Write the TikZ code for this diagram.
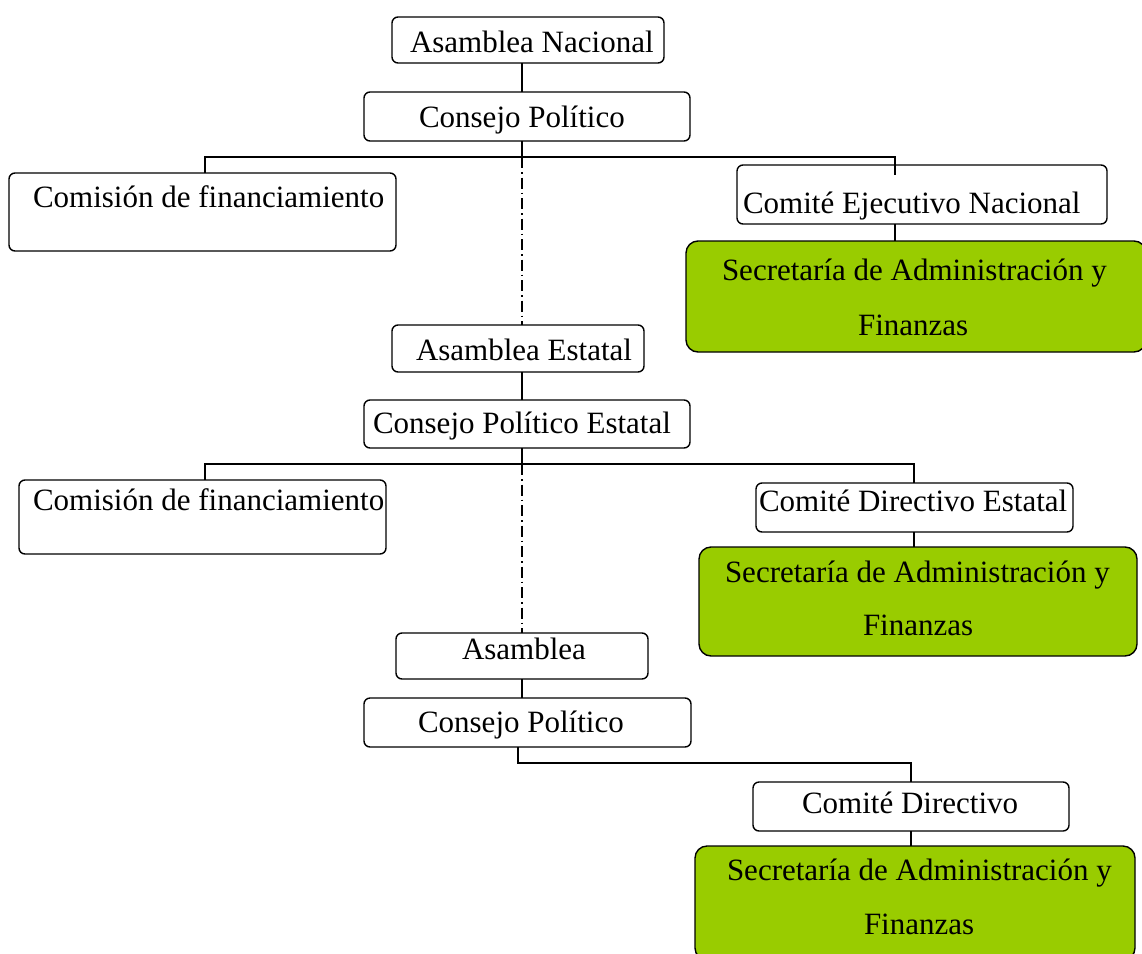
\documentclass[tikz,border=0pt]{standalone}
\usepackage{fontspec}
\setmainfont{Liberation Serif}
\definecolor{leaf}{HTML}{99CC00}
\begin{document}
\begin{tikzpicture}[x=1pt,y=-1pt,
  wbox/.style={draw=black,line width=1.4pt,rounded corners=6pt,fill=white,inner sep=0pt,outer sep=0pt},
  gbox/.style={draw=black,line width=1.4pt,rounded corners=12pt,fill=leaf,inner sep=0pt,outer sep=0pt},
  txt/.style={anchor=base west,inner sep=0pt,outer sep=0pt,font=\fontsize{31}{37}\selectfont},
  conn/.style={draw=black,line width=1.2pt},
  dashdot/.style={draw=black,line width=1.2pt,dash pattern=on 11pt off 4pt on 1.5pt off 4pt}]
\useasboundingbox (0,0) rectangle (1142,953);
% boxes
\node[wbox,minimum width=272pt,minimum height=46pt] (an) at (528,40) {};
\node[wbox,minimum width=326pt,minimum height=49pt] (cp) at (527,116.5) {};
\node[wbox,minimum width=387pt,minimum height=78pt] (cf1) at (202.5,212) {};
\node[wbox,minimum width=370pt,minimum height=59pt] (cen) at (922,194.5) {};
\node[gbox,minimum width=460pt,minimum height=111pt] (g1) at (916,296.5) {};
\node[wbox,minimum width=252pt,minimum height=47pt] (ae) at (518,348.5) {};
\node[wbox,minimum width=326pt,minimum height=48pt] (cpe) at (527,424) {};
\node[wbox,minimum width=367pt,minimum height=74pt] (cf2) at (202.5,517) {};
\node[wbox,minimum width=317pt,minimum height=49pt] (cde) at (914.5,507.5) {};
\node[gbox,minimum width=438pt,minimum height=109pt] (g2) at (918,601.5) {};
\node[wbox,minimum width=252pt,minimum height=46pt] (as) at (522,656) {};
\node[wbox,minimum width=327pt,minimum height=49pt] (cp3) at (527.5,722.5) {};
\node[wbox,minimum width=316pt,minimum height=49pt] (cd) at (911,806.5) {};
\node[gbox,minimum width=440pt,minimum height=114pt] (g3) at (915,903) {};
% junction coordinates
\coordinate (j1) at (522,157);
\coordinate (j1l) at (205,157);
\coordinate (j1r) at (895,157);
\coordinate (e1) at (895,175);
\coordinate (j2) at (522,464);
\coordinate (j2l) at (205,464);
\coordinate (j2r) at (914,464);
\coordinate (j3) at (518,763);
\coordinate (j3r) at (911,763);
% level 1 connectors
\draw[conn] (an.south -| j1) -- (cp.north -| j1);
\draw[conn] (cp.south -| j1) -- (j1);
\draw[conn] (cf1.north -| j1l) -- (j1l) -- (j1r) -- (e1);
\draw[dashdot] (j1) -- (ae.north -| j1);
\draw[conn] (cen.south -| j1r) -- (g1.north -| j1r);
% level 2 connectors
\draw[conn] (ae.south -| j2) -- (cpe.north -| j2);
\draw[conn] (cpe.south -| j2) -- (j2);
\draw[conn] (cf2.north -| j2l) -- (j2l) -- (j2r) -- (cde.north -| j2r);
\draw[dashdot] (j2) -- (as.north -| j2);
\draw[conn] (cde.south -| j2r) -- (g2.north -| j2r);
% level 3 connectors
\draw[conn] (as.south -| j2) -- (cp3.north -| j2);
\draw[conn] (cp3.south -| j3) -- (j3) -- (j3r) -- (cd.north -| j3r);
\draw[conn] (cd.south -| j3r) -- (g3.north -| j3r);
% texts
\node[txt] (an-t) at (410,52) {Asamblea Nacional};
\node[txt] (cp-t) at (419,127) {Consejo Político};
\node[txt] (cf1-t) at (33,207) {Comisión de financiamiento};
\node[txt] (cen-t) at (743,213) {Comité Ejecutivo Nacional};
\node[txt] (g1-t1) at (722,280) {Secretaría de Administración y};
\node[txt] (g1-t2) at (858,335) {Finanzas};
\node[txt] (ae-t) at (416,360) {Asamblea Estatal};
\node[txt] (cpe-t) at (373,433) {Consejo Político Estatal};
\node[txt] (cf2-t) at (33,510) {Comisión de financiamiento};
\node[txt] (cde-t) at (759,511) {Comité Directivo Estatal};
\node[txt] (g2-t1) at (725,582) {Secretaría de Administración y};
\node[txt] (g2-t2) at (863,635) {Finanzas};
\node[txt] (as-t) at (462,659) {Asamblea};
\node[txt] (cp3-t) at (418,732) {Consejo Político};
\node[txt] (cd-t) at (802,813) {Comité Directivo};
\node[txt] (g3-t1) at (727,880) {Secretaría de Administración y};
\node[txt] (g3-t2) at (864,934) {Finanzas};
\end{tikzpicture}
\end{document}
